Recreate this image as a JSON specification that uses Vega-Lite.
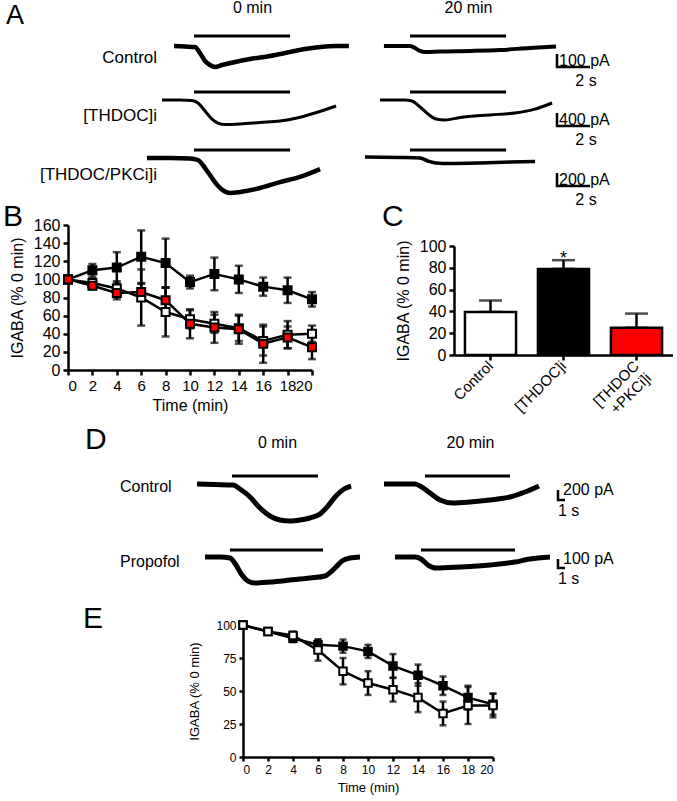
{
"$schema": "https://vega.github.io/schema/vega-lite/v6.json",
"padding": 0,
"background": "white",
"columns": 4,
"align": "none",
"bounds": "flush",
"spacing": 0,
"resolve": {"scale": {"fill": "independent"}},
"config": {
 "font": "Liberation Sans",
 "view": {"stroke": null},
 "axis": {"grid": false, "domainColor": "black", "domainWidth": 2.5, "tickColor": "black", "tickWidth": 2.5, "tickSize": 5, "labelColor": "black", "labelFontSize": 16, "labelFont": "Liberation Sans", "titleFont": "Liberation Sans", "titleFontSize": 16, "titleColor": "black", "titleFontWeight": "normal", "labelPadding": 3, "labelOverlap": false},
 "title": {"font": "Liberation Sans", "fontWeight": "normal", "color": "black", "frame": "group", "offset": 0, "baseline": "alphabetic"},
 "text": {"font": "Liberation Sans", "color": "black"}
},
"concat": [
  {"width": 68, "height": 208, "data": {"values": []}, "mark": "point", "title": {"text": "A", "anchor": "start", "fontSize": 27, "dx": 6, "dy": 31}},
  {"width": 175, "height": 208,
   "title": {"text": "0 min", "fontSize": 16, "dx": 97, "dy": 17},
   "resolve": {"scale": {"y": "independent"}},
   "layer": [
    {"encoding": {"x": {"field": "t", "type": "quantitative", "scale": {"domain": [-5.576, 5.03], "nice": false, "zero": false}, "axis": null},
                  "y": {"field": "i", "type": "quantitative", "scale": {"domain": [-1268.9, 330.7], "nice": false, "zero": false}, "axis": null}},
     "layer": [
      {"data": {"values": [{"t": 2.06, "t2": 7.88, "i": 77}]}, "mark": {"type": "rule", "strokeWidth": 3, "color": "black"}, "encoding": {"x2": {"field": "t2"}}},
      {"data": {"values": [{"t":0.85,"i":0},{"t":1.52,"i":-4},{"t":2.12,"i":-8},{"t":2.42,"i":-54},{"t":2.73,"i":-115},{"t":3.03,"i":-146},{"t":3.33,"i":-161},{"t":3.76,"i":-146},{"t":4.55,"i":-123},{"t":5.45,"i":-100},{"t":6.67,"i":-77},{"t":7.88,"i":-46},{"t":8.79,"i":-23},{"t":9.7,"i":-8},{"t":10.61,"i":0},{"t":11.45,"i":0}]},
       "mark": {"type": "line", "color": "black", "strokeWidth": 4.5, "interpolate": "monotone"}},
      {"data": {"values": [{"t": -0.18, "i": -92, "s": "Control"}]}, "mark": {"type": "text", "align": "right", "baseline": "middle", "fontSize": 17}, "encoding": {"text": {"field": "s"}}}
     ]},
    {"encoding": {"x": {"field": "t", "type": "quantitative", "scale": {"domain": [-5.576, 5.03], "nice": false, "zero": false}, "axis": null},
                  "y": {"field": "i", "type": "quantitative", "scale": {"domain": [-3415.5, 2984.7], "nice": false, "zero": false}, "axis": null}},
     "layer": [
      {"data": {"values": [{"t": 2.06, "t2": 7.88, "i": 246}]}, "mark": {"type": "rule", "strokeWidth": 3, "color": "black"}, "encoding": {"x2": {"field": "t2"}}},
      {"data": {"values": [{"t":0.12,"i":0},{"t":1.21,"i":0},{"t":1.94,"i":-15},{"t":2.3,"i":-92},{"t":2.73,"i":-338},{"t":3.15,"i":-585},{"t":3.52,"i":-708},{"t":3.94,"i":-754},{"t":4.85,"i":-738},{"t":6.06,"i":-692},{"t":7.27,"i":-646},{"t":8.3,"i":-554},{"t":9.39,"i":-400},{"t":10.67,"i":-185}]},
       "mark": {"type": "line", "color": "black", "strokeWidth": 3, "interpolate": "monotone"}},
      {"data": {"values": [{"t": -0.18, "i": -492, "s": "[THDOC]i"}]}, "mark": {"type": "text", "align": "right", "baseline": "middle", "fontSize": 17}, "encoding": {"text": {"field": "s"}}}
     ]},
    {"encoding": {"x": {"field": "t", "type": "quantitative", "scale": {"domain": [-5.576, 5.03], "nice": false, "zero": false}, "axis": null},
                  "y": {"field": "i", "type": "quantitative", "scale": {"domain": [-815.1, 2383.9], "nice": false, "zero": false}, "axis": null}},
     "layer": [
      {"data": {"values": [{"t": 2.06, "t2": 7.88, "i": 123}]}, "mark": {"type": "rule", "strokeWidth": 3, "color": "black"}, "encoding": {"x2": {"field": "t2"}}},
      {"data": {"values": [{"t":-0.79,"i":0},{"t":0.61,"i":0},{"t":1.82,"i":-8},{"t":2.3,"i":-31},{"t":2.73,"i":-154},{"t":3.15,"i":-308},{"t":3.52,"i":-431},{"t":3.88,"i":-508},{"t":4.24,"i":-538},{"t":4.85,"i":-523},{"t":6.06,"i":-462},{"t":7.27,"i":-370},{"t":8.48,"i":-290},{"t":9.7,"i":-170}]},
       "mark": {"type": "line", "color": "black", "strokeWidth": 4.5, "interpolate": "monotone"}},
      {"data": {"values": [{"t": -0.18, "i": -261, "s": "[THDOC/PKCi]i"}]}, "mark": {"type": "text", "align": "right", "baseline": "middle", "fontSize": 17}, "encoding": {"text": {"field": "s"}}}
     ]}
   ]},
  {"width": 211, "height": 208,
   "title": {"text": "20 min", "fontSize": 16, "dx": 120, "dy": 17},
   "resolve": {"scale": {"y": "independent"}},
   "layer": [
    {"encoding": {"x": {"field": "t", "type": "quantitative", "scale": {"domain": [-7.091, 5.697], "nice": false, "zero": false}, "axis": null},
                  "y": {"field": "i", "type": "quantitative", "scale": {"domain": [-1268.9, 330.7], "nice": false, "zero": false}, "axis": null}},
     "layer": [
      {"data": {"values": [{"t": 3.03, "t2": 8.85, "i": 77}]}, "mark": {"type": "rule", "strokeWidth": 3, "color": "black"}, "encoding": {"x2": {"field": "t2"}}},
      {"data": {"values": [{"t":1.45,"i":0},{"t":3.03,"i":0},{"t":3.33,"i":-15},{"t":3.64,"i":-38},{"t":3.94,"i":-46},{"t":4.85,"i":-42},{"t":6.67,"i":-38},{"t":8.48,"i":-31},{"t":10.3,"i":-15},{"t":11.88,"i":-4}]},
       "mark": {"type": "line", "color": "black", "strokeWidth": 4, "interpolate": "monotone"}}
     ]},
    {"encoding": {"x": {"field": "t", "type": "quantitative", "scale": {"domain": [-7.091, 5.697], "nice": false, "zero": false}, "axis": null},
                  "y": {"field": "i", "type": "quantitative", "scale": {"domain": [-3415.5, 2984.7], "nice": false, "zero": false}, "axis": null}},
     "layer": [
      {"data": {"values": [{"t": 3.03, "t2": 8.85, "i": 246}]}, "mark": {"type": "rule", "strokeWidth": 3, "color": "black"}, "encoding": {"x2": {"field": "t2"}}},
      {"data": {"values": [{"t":1.21,"i":0},{"t":2.73,"i":0},{"t":3.15,"i":-31},{"t":3.64,"i":-215},{"t":4.12,"i":-431},{"t":4.61,"i":-585},{"t":5.15,"i":-615},{"t":6.06,"i":-540},{"t":7.88,"i":-460},{"t":9.39,"i":-400},{"t":10.61,"i":-280},{"t":11.64,"i":-92}]},
       "mark": {"type": "line", "color": "black", "strokeWidth": 3, "interpolate": "monotone"}}
     ]},
    {"encoding": {"x": {"field": "t", "type": "quantitative", "scale": {"domain": [-7.091, 5.697], "nice": false, "zero": false}, "axis": null},
                  "y": {"field": "i", "type": "quantitative", "scale": {"domain": [-815.1, 2383.9], "nice": false, "zero": false}, "axis": null}},
     "layer": [
      {"data": {"values": [{"t": 3.03, "t2": 8.85, "i": 123}]}, "mark": {"type": "rule", "strokeWidth": 3, "color": "black"}, "encoding": {"x2": {"field": "t2"}}},
      {"data": {"values": [{"t":0.3,"i":15},{"t":2.42,"i":8},{"t":3.64,"i":0},{"t":4.12,"i":-46},{"t":4.61,"i":-77},{"t":5.45,"i":-85},{"t":7.27,"i":-77},{"t":9.09,"i":-62},{"t":10.61,"i":-54}]},
       "mark": {"type": "line", "color": "black", "strokeWidth": 3.5, "interpolate": "monotone"}}
     ]}
   ]},
  {"width": 219, "height": 208,
   "resolve": {"scale": {"y": "independent"}},
   "layer": [
    {"encoding": {"x": {"field": "t", "type": "quantitative", "scale": {"domain": [-6.242, 7.03], "nice": false, "zero": false}, "axis": null},
                  "y": {"field": "i", "type": "quantitative", "scale": {"domain": [-1268.9, 330.7], "nice": false, "zero": false}, "axis": null}},
     "layer": [
      {"data": {"values": [{"t":0,"i":-62,"o":1},{"t":0,"i":-162,"o":2},{"t":2,"i":-162,"o":3}]}, "mark": {"type": "line", "color": "black", "strokeWidth": 2.5, "strokeJoin": "miter"}, "encoding": {"order": {"field": "o", "type": "quantitative"}}},
      {"data": {"values": [{"t":0,"i":-162,"s":"100 pA"}]}, "mark": {"type": "text", "align": "left", "baseline": "alphabetic", "dx": 2, "dy": -1, "fontSize": 16}, "encoding": {"text": {"field": "s"}}},
      {"data": {"values": [{"t":1.76,"i":-162,"s":"2 s"}]}, "mark": {"type": "text", "align": "center", "baseline": "top", "dy": 6, "fontSize": 16}, "encoding": {"text": {"field": "s"}}}
     ]},
    {"encoding": {"x": {"field": "t", "type": "quantitative", "scale": {"domain": [-6.242, 7.03], "nice": false, "zero": false}, "axis": null},
                  "y": {"field": "i", "type": "quantitative", "scale": {"domain": [-3415.5, 2984.7], "nice": false, "zero": false}, "axis": null}},
     "layer": [
      {"data": {"values": [{"t":0,"i":-400,"o":1},{"t":0,"i":-800,"o":2},{"t":2,"i":-800,"o":3}]}, "mark": {"type": "line", "color": "black", "strokeWidth": 2.5, "strokeJoin": "miter"}, "encoding": {"order": {"field": "o", "type": "quantitative"}}},
      {"data": {"values": [{"t":0,"i":-800,"s":"400 pA"}]}, "mark": {"type": "text", "align": "left", "baseline": "alphabetic", "dx": 2, "dy": -1, "fontSize": 16}, "encoding": {"text": {"field": "s"}}},
      {"data": {"values": [{"t":1.76,"i":-800,"s":"2 s"}]}, "mark": {"type": "text", "align": "center", "baseline": "top", "dy": 6, "fontSize": 16}, "encoding": {"text": {"field": "s"}}}
     ]},
    {"encoding": {"x": {"field": "t", "type": "quantitative", "scale": {"domain": [-6.242, 7.03], "nice": false, "zero": false}, "axis": null},
                  "y": {"field": "i", "type": "quantitative", "scale": {"domain": [-815.1, 2383.9], "nice": false, "zero": false}, "axis": null}},
     "layer": [
      {"data": {"values": [{"t":0,"i":-231,"o":1},{"t":0,"i":-431,"o":2},{"t":2,"i":-431,"o":3}]}, "mark": {"type": "line", "color": "black", "strokeWidth": 2.5, "strokeJoin": "miter"}, "encoding": {"order": {"field": "o", "type": "quantitative"}}},
      {"data": {"values": [{"t":0,"i":-431,"s":"200 pA"}]}, "mark": {"type": "text", "align": "left", "baseline": "alphabetic", "dx": 2, "dy": -1, "fontSize": 16}, "encoding": {"text": {"field": "s"}}},
      {"data": {"values": [{"t":1.76,"i":-431,"s":"2 s"}]}, "mark": {"type": "text", "align": "center", "baseline": "top", "dy": 6, "fontSize": 16}, "encoding": {"text": {"field": "s"}}}
     ]}
   ]},
  {"width": 68, "height": 212, "data": {"values": []}, "mark": "point", "title": {"text": "B", "anchor": "start", "fontSize": 30, "dx": 3, "dy": 25}},
  {"width": 175, "height": 212,
   "data": {"values": [
    {"g":"THDOC","t":0,"v":100,"e":0},{"g":"THDOC","t":2,"v":110,"e":7},{"g":"THDOC","t":4,"v":113,"e":17},{"g":"THDOC","t":6,"v":125,"e":29},{"g":"THDOC","t":8,"v":118,"e":27},{"g":"THDOC","t":10,"v":97,"e":7},{"g":"THDOC","t":12,"v":106,"e":18},{"g":"THDOC","t":14,"v":100,"e":15},{"g":"THDOC","t":16,"v":92,"e":10},{"g":"THDOC","t":18,"v":88,"e":14},{"g":"THDOC","t":20,"v":78,"e":8},
    {"g":"Control","t":0,"v":100,"e":0},{"g":"Control","t":2,"v":96,"e":5},{"g":"Control","t":4,"v":90,"e":8},{"g":"Control","t":6,"v":80,"e":31},{"g":"Control","t":8,"v":64,"e":27},{"g":"Control","t":10,"v":56,"e":10},{"g":"Control","t":12,"v":51,"e":10},{"g":"Control","t":14,"v":46,"e":14},{"g":"Control","t":16,"v":32,"e":16},{"g":"Control","t":18,"v":39,"e":15},{"g":"Control","t":20,"v":40,"e":9},
    {"g":"PKCi","t":0,"v":100,"e":0},{"g":"PKCi","t":2,"v":93,"e":4},{"g":"PKCi","t":4,"v":85,"e":7},{"g":"PKCi","t":6,"v":86,"e":9},{"g":"PKCi","t":8,"v":77,"e":14},{"g":"PKCi","t":10,"v":51,"e":16},{"g":"PKCi","t":12,"v":47,"e":17},{"g":"PKCi","t":14,"v":45,"e":16},{"g":"PKCi","t":16,"v":29,"e":21},{"g":"PKCi","t":18,"v":36,"e":12},{"g":"PKCi","t":20,"v":25,"e":13}
   ]},
   "encoding": {"x": {"field": "t", "type": "quantitative", "scale": {"domain": [0, 20], "nice": false, "range": [0, 244]}, "axis": {"values": [0,2,4,6,8,10,12,14,16,18,20], "title": "Time (min)", "labelFontSize": 15, "titlePadding": 4, "offset": -53}},
                "y": {"field": "v", "type": "quantitative", "scale": {"domain": [0, 160], "nice": false, "range": [159, 14]}, "axis": {"values": [0,20,40,60,80,100,120,140,160], "title": "IGABA (% 0 min)", "titlePadding": 8}}},
   "layer": [
    {"mark": {"type": "errorbar", "ticks": {"size": 8, "thickness": 2.5}, "thickness": 2.5, "color": "black"}, "encoding": {"yError": {"field": "e"}, "detail": {"field": "g"}}},
    {"mark": {"type": "line", "color": "black", "strokeWidth": 2.5}, "encoding": {"detail": {"field": "g"}}},
    {"mark": {"type": "square", "size": 64, "stroke": "black", "strokeWidth": 2, "opacity": 1, "filled": true}, "encoding": {"fill": {"field": "g", "type": "nominal", "scale": {"domain": ["THDOC", "Control", "PKCi"], "range": ["black", "white", "#ff0000"]}, "legend": null}}}
   ]},
  {"width": 211, "height": 212, "data": {"values": []}, "mark": "point", "title": {"text": "C", "anchor": "start", "fontSize": 30, "dx": 139, "dy": 25}},
  {"width": 219, "height": 212,
   "data": {"values": [{"g": "Control", "v": 39.5, "u": 50, "s": ""}, {"g": "[THDOC]i", "v": 79, "u": 87, "s": "*"}, {"g": "[THDOC +PKCi]i", "v": 25, "u": 38, "s": ""}]},
   "encoding": {"x": {"field": "g", "type": "nominal", "sort": null, "scale": {"paddingInner": 0.3, "paddingOuter": 0.15}, "axis": {"title": null, "offset": -68, "labelAngle": -45, "labelAlign": "right", "labelBaseline": "middle", "labelFontSize": 15, "labelExpr": "datum.value == '[THDOC +PKCi]i' ? ['[THDOC', '+PKCi]i'] : datum.label"}},
                "y": {"field": "v", "type": "quantitative", "scale": {"domain": [0, 100], "nice": false, "range": [144, 35]}, "axis": {"values": [0,20,40,60,80,100], "title": "IGABA (% 0 min)", "titlePadding": 8}}},
   "layer": [
    {"mark": {"type": "errorbar", "ticks": {"size": 23, "thickness": 2.5}, "thickness": 2.5, "color": "black"}, "encoding": {"y2": {"field": "u"}}},
    {"mark": {"type": "bar", "stroke": "black", "strokeWidth": 2.5}, "encoding": {"fill": {"field": "g", "type": "nominal", "scale": {"domain": ["Control", "[THDOC]i", "[THDOC +PKCi]i"], "range": ["white", "black", "#ff0000"]}, "legend": null}}},
    {"mark": {"type": "text", "baseline": "alphabetic", "dy": 4, "fontSize": 18}, "encoding": {"y": {"field": "u", "type": "quantitative"}, "text": {"field": "s"}}}
   ]},
  {"width": 68, "height": 180, "data": {"values": []}, "mark": "point", "title": {"text": "D", "anchor": "start", "fontSize": 30, "dx": 85, "dy": 36}},
  {"width": 175, "height": 180,
   "title": {"text": "0 min", "fontSize": 16, "dx": 122, "dy": 32},
   "resolve": {"scale": {"y": "independent"}},
   "layer": [
    {"encoding": {"x": {"field": "t", "type": "quantitative", "scale": {"domain": [-18.143, 6.857], "nice": false, "zero": false}, "axis": null},
                  "y": {"field": "i", "type": "quantitative", "scale": {"domain": [-2380, 1220], "nice": false, "zero": false}, "axis": null}},
     "layer": [
      {"data": {"values": [{"t": 5.29, "t2": 17.57, "i": 160}]}, "mark": {"type": "rule", "strokeWidth": 3, "color": "black"}, "encoding": {"x2": {"field": "t2"}}},
      {"data": {"values": [{"t":0.29,"i":0},{"t":2.86,"i":-10},{"t":5.43,"i":-20},{"t":6.43,"i":-100},{"t":7.86,"i":-260},{"t":9.29,"i":-480},{"t":10.71,"i":-640},{"t":12.14,"i":-720},{"t":13.57,"i":-740},{"t":15,"i":-720},{"t":16.43,"i":-680},{"t":17.86,"i":-600},{"t":19,"i":-440},{"t":20.14,"i":-240},{"t":21.29,"i":-100},{"t":22.29,"i":-40}]},
       "mark": {"type": "line", "color": "black", "strokeWidth": 5, "interpolate": "monotone"}},
      {"data": {"values": [{"t": -10.714, "i": -60, "s": "Control"}]}, "mark": {"type": "text", "align": "left", "baseline": "middle", "fontSize": 16}, "encoding": {"text": {"field": "s"}}}
     ]},
    {"encoding": {"x": {"field": "t", "type": "quantitative", "scale": {"domain": [-18.143, 6.857], "nice": false, "zero": false}, "axis": null},
                  "y": {"field": "i", "type": "quantitative", "scale": {"domain": [-510.6, 1487.4], "nice": false, "zero": false}, "axis": null}},
     "layer": [
      {"data": {"values": [{"t": 5.0, "t2": 18.29, "i": 78}]}, "mark": {"type": "rule", "strokeWidth": 3, "color": "black"}, "encoding": {"x2": {"field": "t2"}}},
      {"data": {"values": [{"t":1.43,"i":0},{"t":3.57,"i":0},{"t":5,"i":-11},{"t":5.86,"i":-89},{"t":6.71,"i":-200},{"t":7.57,"i":-267},{"t":8.57,"i":-289},{"t":10.71,"i":-278},{"t":13.57,"i":-256},{"t":16.43,"i":-233},{"t":18.57,"i":-211},{"t":20,"i":-122},{"t":21,"i":-44},{"t":22.14,"i":-11},{"t":23.57,"i":0}]},
       "mark": {"type": "line", "color": "black", "strokeWidth": 5, "interpolate": "monotone"}},
      {"data": {"values": [{"t": -10.714, "i": -55, "s": "Propofol"}]}, "mark": {"type": "text", "align": "left", "baseline": "middle", "fontSize": 16}, "encoding": {"text": {"field": "s"}}}
     ]}
   ]},
  {"width": 211, "height": 180,
   "title": {"text": "20 min", "fontSize": 16, "dx": 122, "dy": 32},
   "resolve": {"scale": {"y": "independent"}},
   "layer": [
    {"encoding": {"x": {"field": "t", "type": "quantitative", "scale": {"domain": [-20.286, 9.857], "nice": false, "zero": false}, "axis": null},
                  "y": {"field": "i", "type": "quantitative", "scale": {"domain": [-2380, 1220], "nice": false, "zero": false}, "axis": null}},
     "layer": [
      {"data": {"values": [{"t": 5.71, "t2": 17.86, "i": 160}]}, "mark": {"type": "rule", "strokeWidth": 3, "color": "black"}, "encoding": {"x2": {"field": "t2"}}},
      {"data": {"values": [{"t":-0.14,"i":0},{"t":4.29,"i":0},{"t":5,"i":-40},{"t":6.43,"i":-180},{"t":7.86,"i":-320},{"t":9.71,"i":-380},{"t":12.14,"i":-360},{"t":15,"i":-320},{"t":17.86,"i":-260},{"t":20,"i":-160},{"t":22,"i":-40}]},
       "mark": {"type": "line", "color": "black", "strokeWidth": 5, "interpolate": "monotone"}}
     ]},
    {"encoding": {"x": {"field": "t", "type": "quantitative", "scale": {"domain": [-20.286, 9.857], "nice": false, "zero": false}, "axis": null},
                  "y": {"field": "i", "type": "quantitative", "scale": {"domain": [-510.6, 1487.4], "nice": false, "zero": false}, "axis": null}},
     "layer": [
      {"data": {"values": [{"t": 5.14, "t2": 18.57, "i": 78}]}, "mark": {"type": "rule", "strokeWidth": 3, "color": "black"}, "encoding": {"x2": {"field": "t2"}}},
      {"data": {"values": [{"t":1.43,"i":0},{"t":4.29,"i":0},{"t":5.14,"i":-22},{"t":6.14,"i":-89},{"t":7.29,"i":-122},{"t":10.71,"i":-111},{"t":15,"i":-89},{"t":18.57,"i":-56},{"t":20.71,"i":-22},{"t":23.57,"i":0}]},
       "mark": {"type": "line", "color": "black", "strokeWidth": 5, "interpolate": "monotone"}}
     ]}
   ]},
  {"width": 219, "height": 180,
   "resolve": {"scale": {"y": "independent"}},
   "layer": [
    {"encoding": {"x": {"field": "t", "type": "quantitative", "scale": {"domain": [-14.857, 16.429], "nice": false, "zero": false}, "axis": null},
                  "y": {"field": "i", "type": "quantitative", "scale": {"domain": [-2380, 1220], "nice": false, "zero": false}, "axis": null}},
     "layer": [
      {"data": {"values": [{"t":0,"i":-120,"o":1},{"t":0,"i":-320,"o":2},{"t":1,"i":-320,"o":3}]}, "mark": {"type": "line", "color": "black", "strokeWidth": 2.5, "strokeJoin": "miter"}, "encoding": {"order": {"field": "o", "type": "quantitative"}}},
      {"data": {"values": [{"t":0,"i":-120,"s":"200 pA"}]}, "mark": {"type": "text", "align": "left", "baseline": "middle", "dx": 5, "fontSize": 16}, "encoding": {"text": {"field": "s"}}},
      {"data": {"values": [{"t":0,"i":-320,"s":"1 s"}]}, "mark": {"type": "text", "align": "left", "baseline": "top", "dy": 3, "fontSize": 16}, "encoding": {"text": {"field": "s"}}}
     ]},
    {"encoding": {"x": {"field": "t", "type": "quantitative", "scale": {"domain": [-14.857, 16.429], "nice": false, "zero": false}, "axis": null},
                  "y": {"field": "i", "type": "quantitative", "scale": {"domain": [-510.6, 1487.4], "nice": false, "zero": false}, "axis": null}},
     "layer": [
      {"data": {"values": [{"t":0,"i":-22,"o":1},{"t":0,"i":-122,"o":2},{"t":1,"i":-122,"o":3}]}, "mark": {"type": "line", "color": "black", "strokeWidth": 2.5, "strokeJoin": "miter"}, "encoding": {"order": {"field": "o", "type": "quantitative"}}},
      {"data": {"values": [{"t":0,"i":-22,"s":"100 pA"}]}, "mark": {"type": "text", "align": "left", "baseline": "middle", "dx": 5, "fontSize": 16}, "encoding": {"text": {"field": "s"}}},
      {"data": {"values": [{"t":0,"i":-122,"s":"1 s"}]}, "mark": {"type": "text", "align": "left", "baseline": "top", "dy": 3, "fontSize": 16}, "encoding": {"text": {"field": "s"}}}
     ]}
   ]},
  {"width": 68, "height": 201, "data": {"values": []}, "mark": "point"},
  {"width": 175, "height": 201, "data": {"values": []}, "mark": "point", "title": {"text": "E", "anchor": "start", "fontSize": 30, "dx": 15, "dy": 35}},
  {"width": 211, "height": 201,
   "data": {"values": [
    {"g":"Propofol","t":0,"v":100,"e":0},{"g":"Propofol","t":2,"v":95,"e":2},{"g":"Propofol","t":4,"v":90,"e":3},{"g":"Propofol","t":6,"v":85,"e":4},{"g":"Propofol","t":8,"v":84,"e":5},{"g":"Propofol","t":10,"v":80,"e":5},{"g":"Propofol","t":12,"v":69,"e":9},{"g":"Propofol","t":14,"v":62,"e":8},{"g":"Propofol","t":16,"v":54,"e":7},{"g":"Propofol","t":18,"v":45,"e":9},{"g":"Propofol","t":20,"v":40,"e":8},
    {"g":"Control","t":0,"v":100,"e":0},{"g":"Control","t":2,"v":95,"e":2},{"g":"Control","t":4,"v":92,"e":3},{"g":"Control","t":6,"v":81,"e":8},{"g":"Control","t":8,"v":65,"e":10},{"g":"Control","t":10,"v":56,"e":9},{"g":"Control","t":12,"v":51,"e":9},{"g":"Control","t":14,"v":45,"e":11},{"g":"Control","t":16,"v":33,"e":9},{"g":"Control","t":18,"v":39,"e":14},{"g":"Control","t":20,"v":39,"e":9}
   ]},
   "encoding": {"x": {"field": "t", "type": "quantitative", "scale": {"domain": [0, 20], "nice": false, "range": [0, 250]}, "axis": {"values": [0,2,4,6,8,10,12,14,16,18,20], "title": "Time (min)", "labelFontSize": 12, "titleFontSize": 13, "tickSize": 4, "titlePadding": 6, "offset": -47}},
                "y": {"field": "v", "type": "quantitative", "scale": {"domain": [0, 100], "nice": false, "range": [154, 22]}, "axis": {"values": [0,25,50,75,100], "title": "IGABA (% 0 min)", "labelFontSize": 12, "titleFontSize": 13, "tickSize": 4, "titlePadding": 14}}},
   "layer": [
    {"mark": {"type": "errorbar", "ticks": {"size": 7, "thickness": 2.5}, "thickness": 2.5, "color": "black"}, "encoding": {"yError": {"field": "e"}, "detail": {"field": "g"}}},
    {"mark": {"type": "line", "color": "black", "strokeWidth": 2.5}, "encoding": {"detail": {"field": "g"}}},
    {"mark": {"type": "square", "size": 56, "stroke": "black", "strokeWidth": 2, "opacity": 1, "filled": true}, "encoding": {"fill": {"field": "g", "type": "nominal", "scale": {"domain": ["Propofol", "Control"], "range": ["black", "white"]}, "legend": null}}}
   ]},
  {"width": 219, "height": 201, "data": {"values": []}, "mark": "point"}
]
}
